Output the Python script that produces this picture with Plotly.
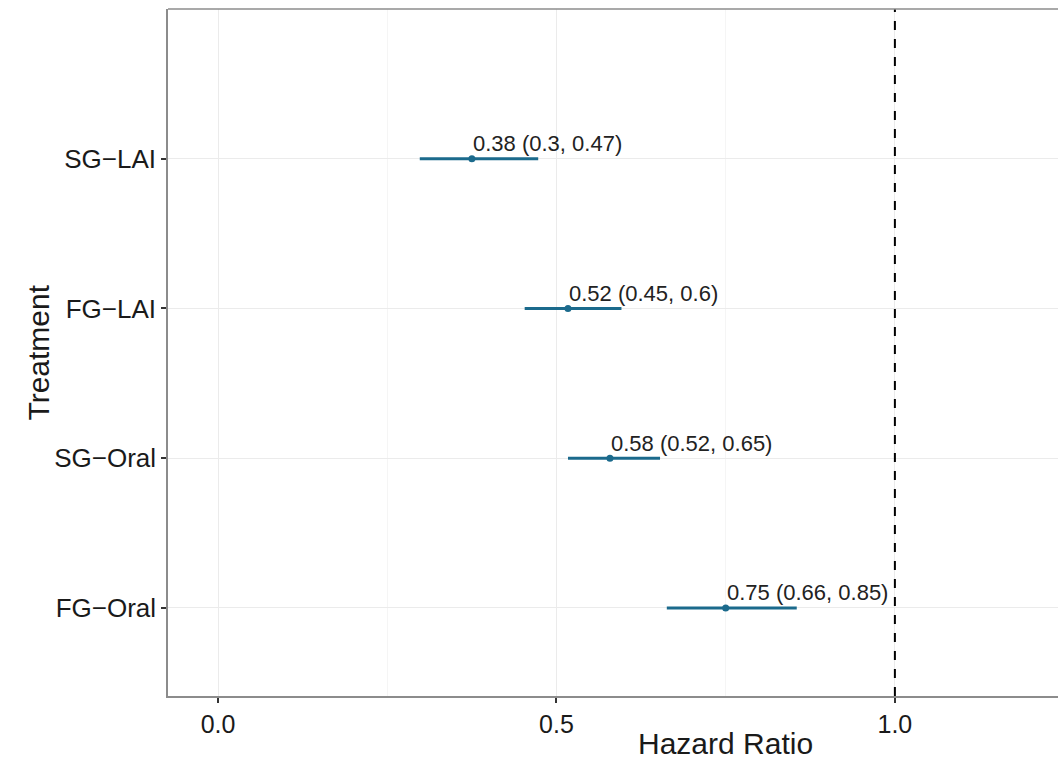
import plotly.graph_objects as go

treatments = ["FG\u2212Oral", "SG\u2212Oral", "FG\u2212LAI", "SG\u2212LAI"]
hr = [0.750, 0.579, 0.517, 0.375]
lower = [0.663, 0.517, 0.453, 0.298]
upper = [0.855, 0.653, 0.596, 0.473]
labels = ["0.75 (0.66, 0.85)", "0.58 (0.52, 0.65)", "0.52 (0.45, 0.6)", "0.38 (0.3, 0.47)"]
x_ticks = [0.0, 0.5, 1.0]
x_ticklabels = ["0.0", "0.5", "1.0"]

color = "#1b6a8c"
font_family = "Liberation Sans, Arial, sans-serif"

fig = go.Figure()
fig.add_trace(go.Scatter(
    x=hr, y=treatments, mode="markers",
    marker=dict(color=color, size=7),
    error_x=dict(type="data", symmetric=False,
                 array=[u - h for u, h in zip(upper, hr)],
                 arrayminus=[h - l for h, l in zip(hr, lower)],
                 color=color, thickness=3, width=0),
    showlegend=False, hoverinfo="skip",
))

for t, h, lab in zip(treatments, hr, labels):
    fig.add_annotation(x=h, y=t, text=lab, showarrow=False,
                       xanchor="left", yanchor="middle", xshift=-1, yshift=15,
                       font=dict(size=22, color="#222222", family=font_family))

fig.add_vline(x=1.0, line=dict(color="black", width=2, dash="dash"))
fig.add_shape(type="line", xref="paper", yref="paper", x0=0, x1=1, y0=1, y1=1,
              line=dict(color="#8c8c8c", width=1.5))

fig.update_xaxes(
    range=[-0.074, 1.241], tickvals=x_ticks, ticktext=x_ticklabels,
    showgrid=True, gridcolor="#ebebeb", gridwidth=1,
    minor=dict(dtick=0.25, tick0=0.25, showgrid=True, gridcolor="#f5f5f5", gridwidth=1),
    zeroline=False, showline=True, linecolor="#8c8c8c", linewidth=1.5,
    ticks="outside", ticklen=5, tickcolor="#333333", tickwidth=1.5,
    tickfont=dict(size=25, color="#1a1a1a", family=font_family),
)
fig.update_yaxes(
    type="category", categoryorder="array", categoryarray=treatments,
    range=[-0.588, 4.0],
    showgrid=True, gridcolor="#ebebeb", gridwidth=1,
    zeroline=False, showline=True, linecolor="#8c8c8c", linewidth=1.5,
    ticks="outside", ticklen=5, tickcolor="#333333", tickwidth=1.5,
    tickfont=dict(size=26, color="#1a1a1a", family=font_family),
)

fig.add_annotation(xref="paper", yref="paper", x=0.626, y=-0.069, text="Hazard Ratio",
                   showarrow=False, xanchor="center", yanchor="middle",
                   font=dict(size=30, color="#1a1a1a", family=font_family))
fig.add_annotation(xref="paper", yref="paper", x=-0.146, y=0.5, text="Treatment",
                   showarrow=False, textangle=-90, xanchor="center", yanchor="middle",
                   font=dict(size=30, color="#1a1a1a", family=font_family))

fig.update_layout(
    width=1058, height=759,
    margin=dict(l=168, r=0, t=9, b=63),
    plot_bgcolor="white", paper_bgcolor="white",
    font=dict(family=font_family),
)

fig.write_html("out.html")
